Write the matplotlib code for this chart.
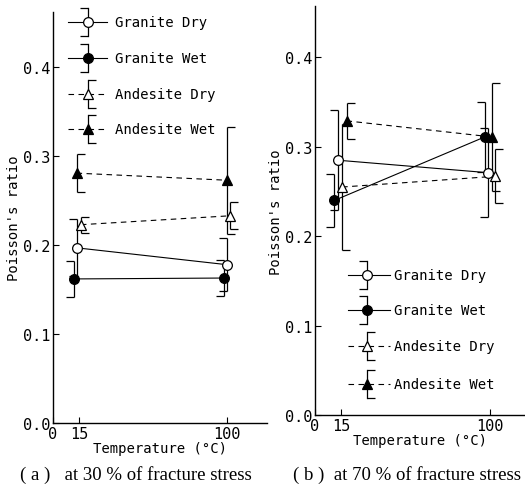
import numpy as np
import matplotlib.pyplot as plt

temps = np.array([15, 100])
names = ["Granite Dry", "Granite Wet", "Andesite Dry", "Andesite Wet"]

# (a) at 30 % of fracture stress
a_granite_dry = [0.197, 0.178]
a_granite_dry_err = [0.032, 0.030]
a_granite_wet = [0.162, 0.163]
a_granite_wet_err = [0.020, 0.020]
a_andesite_dry = [0.223, 0.233]
a_andesite_dry_err = [0.009, 0.015]
a_andesite_wet = [0.281, 0.273]
a_andesite_wet_err = [0.021, 0.060]

# (b) at 70 % of fracture stress
b_granite_dry = [0.285, 0.271]
b_granite_dry_err = [0.056, 0.050]
b_granite_wet = [0.240, 0.311]
b_granite_wet_err = [0.030, 0.039]
b_andesite_dry = [0.255, 0.267]
b_andesite_dry_err = [0.070, 0.030]
b_andesite_wet = [0.329, 0.311]
b_andesite_wet_err = [0.020, 0.060]

captions = ["( a )   at 30 % of fracture stress", "( b )  at 70 % of fracture stress"]

# marker, face colour, line style, cap side (0 = tick left, 1 = tick right)
styles = [
    ("o", "white", "-", 0),
    ("o", "black", "-", 0),
    ("^", "white", (0, (5, 4)), 1),
    ("^", "black", (0, (5, 4)), 1),
]
# small horizontal shifts so the bars don't sit on top of each other
a_shift = [[-1.5, 0], [-3, -2], [1, 1.5], [-1.5, 0]]
b_shift = [[-2, -1], [-4, -3], [0.5, 3], [3, 1]]

mono = "DejaVu Sans Mono"
plt.rcParams["font.family"] = mono
plt.rcParams["font.size"] = 10


def draw_series(ax, x, y, err, style):
    marker, face, ls, cap = style
    y = np.array(y)
    err = np.array(err)
    ax.plot(x, y, color="black", ls=ls, lw=0.8)
    ax.vlines(x, y - err, y + err, color="black", lw=0.9)
    ax.plot(x, y + err, ls="none", marker=cap, ms=6, mew=0.9, color="black")
    ax.plot(x, y - err, ls="none", marker=cap, ms=6, mew=0.9, color="black")
    ax.plot(x, y, ls="none", marker=marker, ms=7, mfc=face, mec="black",
            mew=0.9, zorder=3)


def draw_legend(ax, xm, rows, x0, x1, xt, dy):
    for (marker, face, ls, cap), name, yr in zip(styles, names, rows):
        tr = ax.transAxes
        ax.plot([x0, x1], [yr, yr], color="black", ls=ls, lw=0.8,
                transform=tr, clip_on=False)
        ax.plot([xm, xm], [yr - dy, yr + dy], color="black", lw=0.9,
                transform=tr, clip_on=False)
        ax.plot([xm, xm], [yr - dy, yr + dy], ls="none", marker=cap, ms=6,
                mew=0.9, color="black", transform=tr, clip_on=False)
        ax.plot([xm], [yr], ls="none", marker=marker, ms=7, mfc=face,
                mec="black", mew=0.9, transform=tr, clip_on=False, zorder=3)
        ax.text(xt, yr, name, transform=tr, va="center", ha="left",
                fontsize=10)


def style_axes(ax, xmax, ymax):
    ax.set_xlim(0, xmax)
    ax.set_ylim(0, ymax)
    for s in ["top", "right"]:
        ax.spines[s].set_visible(False)
    ax.spines["left"].set_linewidth(1.0)
    ax.spines["bottom"].set_linewidth(1.0)
    ax.set_yticks([0.0, 0.1, 0.2, 0.3, 0.4])
    ax.set_yticklabels(["0.0", "0.1", "0.2", "0.3", "0.4"])
    ax.set_xticks([0, 15, 100])
    ax.set_xticklabels(["0", "15", "100"])
    ax.tick_params(direction="in", length=4, width=0.8, pad=2, labelsize=11)
    ax.set_xlabel("Temperature (\u00b0C)", labelpad=0, fontsize=10)
    ax.set_ylabel("Poisson's ratio", labelpad=1, fontsize=10)


fig = plt.figure(figsize=(5.25, 4.89), dpi=100)
ax_a = fig.add_axes([0.101, 0.133, 0.408, 0.840])
ax_b = fig.add_axes([0.600, 0.149, 0.400, 0.836])

a_data = [(a_granite_dry, a_granite_dry_err), (a_granite_wet, a_granite_wet_err),
          (a_andesite_dry, a_andesite_dry_err), (a_andesite_wet, a_andesite_wet_err)]
b_data = [(b_granite_dry, b_granite_dry_err), (b_granite_wet, b_granite_wet_err),
          (b_andesite_dry, b_andesite_dry_err), (b_andesite_wet, b_andesite_wet_err)]

for (y, e), st, sh in zip(a_data, styles, a_shift):
    draw_series(ax_a, temps + np.array(sh), y, e, st)
for (y, e), st, sh in zip(b_data, styles, b_shift):
    draw_series(ax_b, temps + np.array(sh), y, e, st)

style_axes(ax_a, 123, 0.462)
style_axes(ax_b, 120, 0.457)

draw_legend(ax_a, 0.164, [0.976, 0.888, 0.800, 0.715], 0.07, 0.252, 0.29, 0.034)
draw_legend(ax_b, 0.248, [0.342, 0.257, 0.169, 0.076], 0.157, 0.357, 0.376, 0.034)

fig.text(0.258, 0.029, captions[0], ha="center", va="center",
         family="Liberation Serif", fontsize=13.5)
fig.text(0.775, 0.029, captions[1], ha="center", va="center",
         family="Liberation Serif", fontsize=13.5)

fig.savefig("out.png", dpi=100)
